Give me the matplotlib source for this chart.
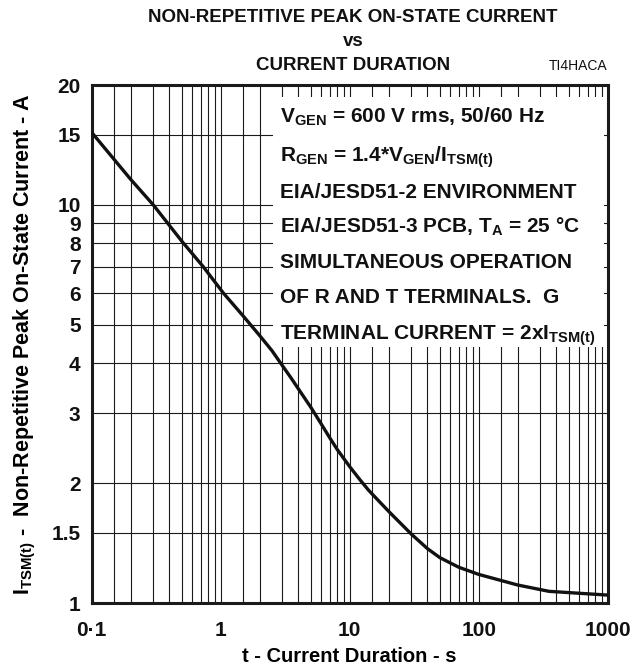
import numpy as np
import matplotlib
matplotlib.use("Agg")
import matplotlib.pyplot as plt
from matplotlib.patches import Rectangle
from matplotlib.ticker import FixedLocator, NullFormatter, NullLocator

plt.rcParams['font.family'] = ['Liberation Sans', 'DejaVu Sans']
plt.rcParams['mathtext.fontset'] = 'custom'
plt.rcParams['mathtext.rm'] = 'Liberation Sans:bold'
plt.rcParams['mathtext.it'] = 'Liberation Sans:bold'
plt.rcParams['mathtext.bf'] = 'Liberation Sans:bold'

# curve
t_sec = [0.1, 0.2, 0.3, 0.5, 0.73, 1.05, 1.5, 2, 2.5, 3, 3.5, 4, 5, 6, 7, 8, 10, 12, 14,
         20, 30, 40, 50, 70, 100, 200, 350, 1000]
i_tsm = [15.2, 11.6, 10.0, 8.1, 7.0, 6.0, 5.25, 4.7, 4.3, 3.95, 3.68, 3.45, 3.1, 2.82, 2.6,
         2.43, 2.2, 2.04, 1.92, 1.70, 1.49, 1.37, 1.30, 1.23, 1.18, 1.11, 1.07, 1.047]

x_ticks = [0.1, 1, 10, 100, 1000]
x_ticklabels = ["0·1", "1", "10", "100", "1000"]
y_ticks = [1, 1.5, 2, 3, 4, 5, 6, 7, 8, 9, 10, 15, 20]
y_ticklabels = ["1", "1.5", "2", "3", "4", "5", "6", "7", "8", "9", "10", "15", "20"]
x_grid_mult = [1, 1.5, 2, 3, 4, 5, 6, 7, 8, 9]

notes = [
    r"V$_{\rm GEN}$ = 600 V rms, 50/60 Hz",
    r"R$_{\rm GEN}$ = 1.4*V$_{\rm GEN}$/I$_{\rm TSM(t)}$",
    "EIA/JESD51-2 ENVIRONMENT",
    r"EIA/JESD51-3 PCB, T$_{\rm A}$ = 25 °C",
    "SIMULTANEOUS OPERATION",
    "OF R AND T TERMINALS.  G",
    r"TERMINAL CURRENT = 2xI$_{\rm TSM(t)}$",
]
note_y = [0.928, 0.851, 0.782, 0.714, 0.647, 0.579, 0.508]

fig = plt.figure(figsize=(6.33, 6.71), dpi=100)
ax = fig.add_axes([0.1449, 0.1013, 0.8152, 0.772])

ax.set_xscale("log")
ax.set_yscale("log")
ax.set_xlim(0.1, 1000)
ax.set_ylim(1, 20)

# grid lines
xg = [d * m for d in [0.1, 1, 10, 100] for m in x_grid_mult]
for xv in xg[1:]:
    ax.axvline(xv, color="#1a1a1a", lw=0.8, zorder=0.5)
for yv in y_ticks[1:-1]:
    ax.axhline(yv, color="#1a1a1a", lw=0.8, zorder=0.5)

ax.xaxis.set_major_locator(FixedLocator(x_ticks))
ax.xaxis.set_minor_locator(NullLocator())
ax.set_xticklabels(x_ticklabels)
ax.yaxis.set_major_locator(FixedLocator(y_ticks))
ax.yaxis.set_minor_locator(NullLocator())
ax.yaxis.set_minor_formatter(NullFormatter())
ax.set_yticklabels(y_ticklabels)
ax.tick_params(axis="both", length=0, labelsize=15)
ax.tick_params(axis="x", pad=13)
ax.tick_params(axis="y", pad=8)
for lab in ax.get_xticklabels() + ax.get_yticklabels():
    lab.set_fontweight("bold")
    lab.set_color("#111111")

for s in ax.spines.values():
    s.set_linewidth(2.2)
    s.set_color("#1a1a1a")

# white note box
ax.add_patch(Rectangle((0.351, 0.494), 0.642, 0.483, transform=ax.transAxes,
                       facecolor="white", edgecolor="none", zorder=1))
for txt, yy in zip(notes, note_y):
    ax.text(0.365, yy, txt, transform=ax.transAxes, fontsize=15, fontweight="bold",
            va="baseline", ha="left", color="#111111", zorder=2)

ax.plot(t_sec, i_tsm, color="#111111", lw=2.4, solid_joinstyle="round", zorder=3)

ax.set_xlabel("t - Current Duration - s", fontsize=14.5, fontweight="bold", labelpad=5)
ax.set_ylabel(r"I$_{\rm TSM(t)}$ -  Non-Repetitive Peak On-State Current - A",
              fontsize=15.5, fontweight="bold", labelpad=10)

fig.text(0.558, 1 - 17 / 671, "NON-REPETITIVE PEAK ON-STATE CURRENT", ha="center",
         va="center", fontsize=13.5, fontweight="bold", color="#111111")
fig.text(0.558, 1 - 42 / 671, "vs", ha="center", va="center", fontsize=13.5,
         fontweight="bold", color="#111111")
fig.text(0.558, 1 - 66 / 671, "CURRENT DURATION", ha="center", va="center",
         fontsize=13.5, fontweight="bold", color="#111111")
fig.text(607 / 633, 1 - 66 / 671, "TI4HACA", ha="right", va="center", fontsize=10,
         color="#111111")

fig.savefig("out.png", dpi=100)
